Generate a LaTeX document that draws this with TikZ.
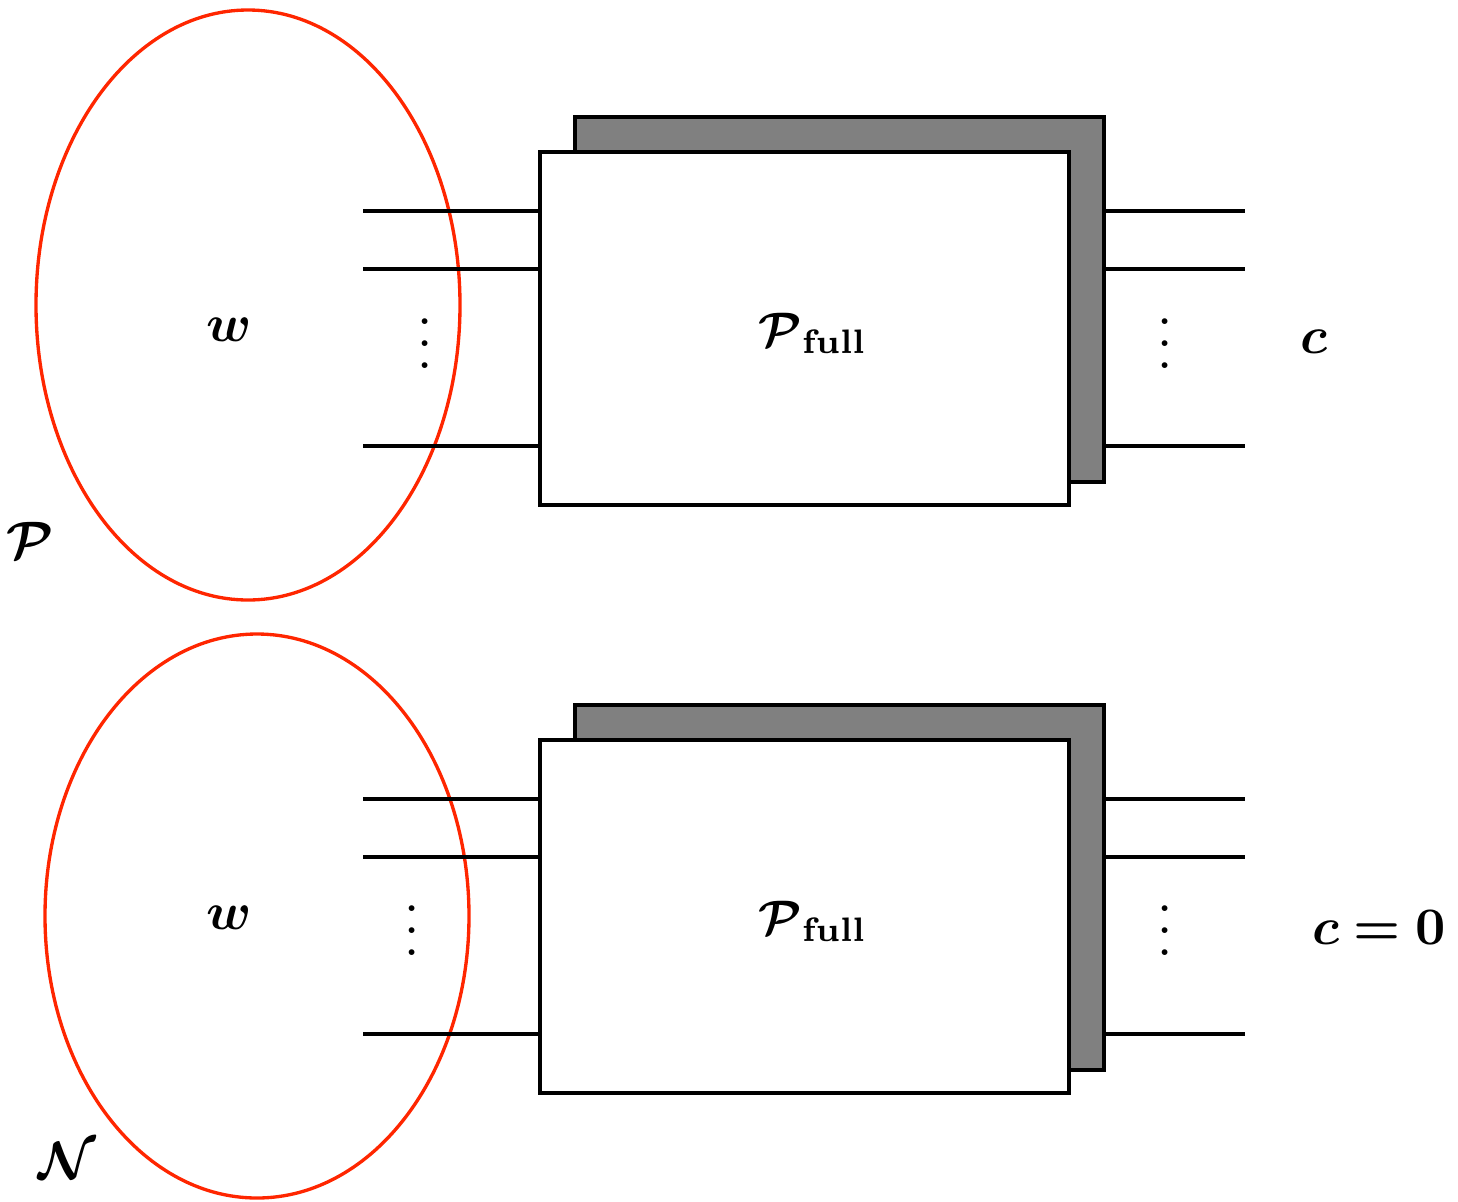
\documentclass[tikz,border=0pt]{standalone}
\usepackage{amsmath,bm}
\usetikzlibrary{shapes.geometric}
\definecolor{ellred}{RGB}{255,38,0}
\tikzset{
  ell/.style={draw=ellred,line width=1.9pt,ellipse,inner sep=0pt},
  backbox/.style={draw=black,fill=gray,line width=2pt,rectangle,inner sep=0pt,minimum width=529*0.02cm,minimum height=365*0.02cm},
  frontbox/.style={draw=black,fill=white,line width=2pt,rectangle,inner sep=0pt,minimum width=529*0.02cm,minimum height=353*0.02cm},
  wire/.style={line width=1.9pt},
  lbl/.style={scale=3,inner sep=0pt},
  dots/.style={scale=3.1,inner sep=0pt},
}
\begin{document}
\begin{tikzpicture}[x=0.02cm,y=-0.02cm]
\useasboundingbox (0,0) rectangle (1458,1201);
% ---------- top ----------
\node[ell,minimum width=424*0.02cm,minimum height=590*0.02cm] (e1) at (248,305) {};
\node[backbox] (b1) at (839.5,299.5) {};
\node[frontbox] (f1) at (804.5,328.5) {};
\coordinate (l1a) at (363,211);
\coordinate (l1b) at (363,269);
\coordinate (l1c) at (363,446);
\coordinate (r1a) at (1245,211);
\coordinate (r1b) at (1245,269);
\coordinate (r1c) at (1245,446);
\foreach \c in {l1a,l1b,l1c} \draw[wire] (\c) -- (f1.west |- \c);
\foreach \c in {r1a,r1b,r1c} \draw[wire] (b1.east |- \c) -- (\c);
\node[lbl] (w1) at (229,330) {$\bm{w}$};
\node[lbl,scale=0.92] (p1) at (813,333) {$\bm{\mathcal{P}}_{\mathbf{full}}$};
\node[lbl] (c1) at (1314,342) {$\bm{c}$};
\node[lbl] (P) at (30,540) {$\bm{\mathcal{P}}$};
\node[dots] (d1) at (425,327) {$\vdots$};
\node[dots] (d2) at (1165,327) {$\vdots$};
% ---------- bottom ----------
\node[ell,minimum width=424*0.02cm,minimum height=564*0.02cm] (e2) at (257,916) {};
\node[backbox] (b2) at (839.5,887.5) {};
\node[frontbox] (f2) at (804.5,916.5) {};
\coordinate (l2a) at (363,799);
\coordinate (l2b) at (363,857);
\coordinate (l2c) at (363,1034);
\coordinate (r2a) at (1245,799);
\coordinate (r2b) at (1245,857);
\coordinate (r2c) at (1245,1034);
\foreach \c in {l2a,l2b,l2c} \draw[wire] (\c) -- (f2.west |- \c);
\foreach \c in {r2a,r2b,r2c} \draw[wire] (b2.east |- \c) -- (\c);
\node[lbl] (w2) at (229,918) {$\bm{w}$};
\node[lbl,scale=0.92] (p2) at (813,921) {$\bm{\mathcal{P}}_{\mathbf{full}}$};
\node[lbl] (c2) at (1379,928) {$\bm{c = 0}$};
\node[lbl] (N) at (67,1160) {$\bm{\mathcal{N}}$};
\node[dots] (d3) at (412,914) {$\vdots$};
\node[dots] (d4) at (1165,914) {$\vdots$};
\end{tikzpicture}
\end{document}
